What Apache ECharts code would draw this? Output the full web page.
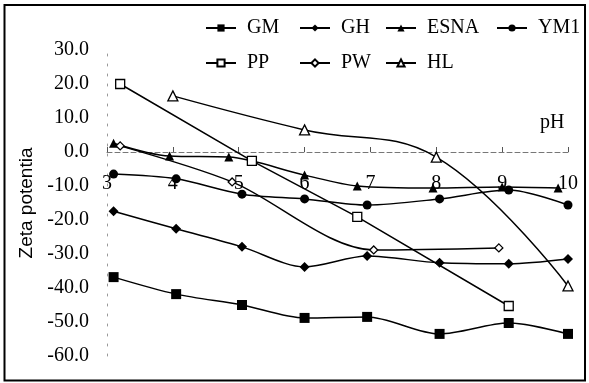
<!DOCTYPE html>
<html>
<head>
<meta charset="utf-8">
<script src="https://cdn.jsdelivr.net/npm/echarts@6/dist/echarts.min.js"></script>
<style>
  html, body { margin: 0; padding: 0; background: #fff; }
  #chart { width: 589px; height: 383px; }
</style>
</head>
<body>
<div id="chart"></div>
<script>
// Zeta potential (mV) of the samples versus pH
const phMain = [3.1, 4.05, 5.05, 6.0, 6.95, 8.05, 9.1, 10.0];
const gmZeta = [-36.8, -41.8, -45.0, -48.8, -48.5, -53.5, -50.3, -53.5];
const ghZeta = [-17.4, -22.6, -27.9, -33.8, -30.6, -32.6, -32.9, -31.5];
const esnaPh = [3.1, 3.95, 4.85, 6.0, 6.8, 7.95, 9.0, 9.85];
const esnaZeta = [2.6, -1.2, -1.5, -6.8, -10.0, -10.6, -10.3, -10.6];
const ym1Zeta = [-6.5, -7.9, -12.4, -13.8, -15.6, -13.8, -11.2, -15.6];
const ppPh = [3.2, 5.2, 6.8, 9.1];
const ppZeta = [20.0, -2.6, -19.1, -45.3];
const pwPh = [3.2, 4.9, 7.05, 8.95];
const pwZeta = [1.8, -8.8, -28.8, -28.2];
const hlPh = [4.0, 6.0, 8.0, 10.0];
const hlZeta = [16.5, 6.5, -1.5, -39.4];

const seriesNames = ['GM', 'GH', 'ESNA', 'YM1', 'PP', 'PW', 'HL'];
const yTicks = { min: -60, max: 30, step: 10 };
const xTicks = { min: 3, max: 10, step: 1 };

const serif = 'Liberation Serif';
const pairs = (xs, ys) => xs.map((x, i) => [x, ys[i]]);

// plot area
const W = 589, H = 383;
const gridBox = { left: 107, right: 21, top: 50, bottom: 27 };
const plotH = H - gridBox.top - gridBox.bottom;
// lift the pH axis (line, ticks and labels) up to the zero level
const zeroLift = -plotH * (0 - yTicks.min) / (yTicks.max - yTicks.min);

function lineSeries(name, xs, ys, symbol, size, hollow, smooth) {
  return {
    name: name,
    type: 'line',
    data: pairs(xs, ys),
    symbol: symbol,
    symbolSize: size,
    smooth: smooth,
    showAllSymbol: true,
    lineStyle: { color: '#000', width: 1.5 },
    itemStyle: hollow
      ? { color: '#fff', borderColor: '#000', borderWidth: 1.3 }
      : { color: '#000', borderColor: '#000', borderWidth: 0 },
    emphasis: { disabled: true },
    z: 3
  };
}

// legend laid out in two rows of columns
const legendSlots = [
  [205, 18], [299, 18], [385, 18], [496, 18],
  [205, 53], [299, 53], [385, 53]
];
const legends = seriesNames.map((n, i) => ({
  data: [n],
  left: legendSlots[i][0],
  top: legendSlots[i][1],
  padding: 0,
  itemWidth: 30,
  itemHeight: 9,
  selectedMode: false,
  textStyle: { fontFamily: serif, fontSize: 20, color: '#000', padding: [0, 0, 0, 6] }
}));

const chart = echarts.init(document.getElementById('chart'), null, { renderer: 'canvas' });
chart.setOption({
  animation: false,
  backgroundColor: '#fff',
  legend: legends,
  grid: gridBox,
  xAxis: {
    type: 'value',
    min: xTicks.min, max: xTicks.max, interval: xTicks.step,
    position: 'bottom',
    offset: zeroLift,
    axisLine: { onZero: false, lineStyle: { color: '#777', width: 1, type: [5, 3] } },
    axisTick: { inside: true, length: 5, lineStyle: { color: '#555' } },
    axisLabel: { margin: 22, fontFamily: serif, fontSize: 20, color: '#000' },
    splitLine: { show: false }
  },
  yAxis: {
    type: 'value',
    min: yTicks.min, max: yTicks.max, interval: yTicks.step,
    name: 'Zeta potentia',
    nameLocation: 'middle',
    nameGap: 68,
    nameRotate: 90,
    nameTextStyle: { fontFamily: 'Liberation Sans', fontSize: 19, color: '#000' },
    axisLine: { show: true, onZero: false, lineStyle: { color: '#999', width: 1, type: [2, 8] } },
    axisTick: { show: false },
    axisLabel: {
      margin: 18, fontFamily: serif, fontSize: 20, color: '#000',
      formatter: v => v.toFixed(1)
    },
    splitLine: { show: false }
  },
  graphic: [
    {
      type: 'rect',
      shape: { x: 4.5, y: 5, width: 580.5, height: 375.5 },
      style: { fill: 'none', stroke: '#000', lineWidth: 2 },
      z: 10, silent: true
    },
    {
      type: 'text',
      left: 540, top: 113,
      style: { text: 'pH', font: '20px "Liberation Serif"', fill: '#000' },
      silent: true
    }
  ],
  series: [
    lineSeries('GM', phMain, gmZeta, 'rect', 10, false, 0.3),
    lineSeries('GH', phMain, ghZeta, 'diamond', 10, false, 0.3),
    lineSeries('ESNA', esnaPh, esnaZeta, 'triangle', 9, false, 0.3),
    lineSeries('YM1', phMain, ym1Zeta, 'circle', 9, false, 0.3),
    lineSeries('PP', ppPh, ppZeta, 'rect', 9, true, false),
    lineSeries('PW', pwPh, pwZeta, 'diamond', 8, true, 0.3),
    lineSeries('HL', hlPh, hlZeta, 'triangle', 10, true, 0.4)
  ]
});
</script>
</body>
</html>
